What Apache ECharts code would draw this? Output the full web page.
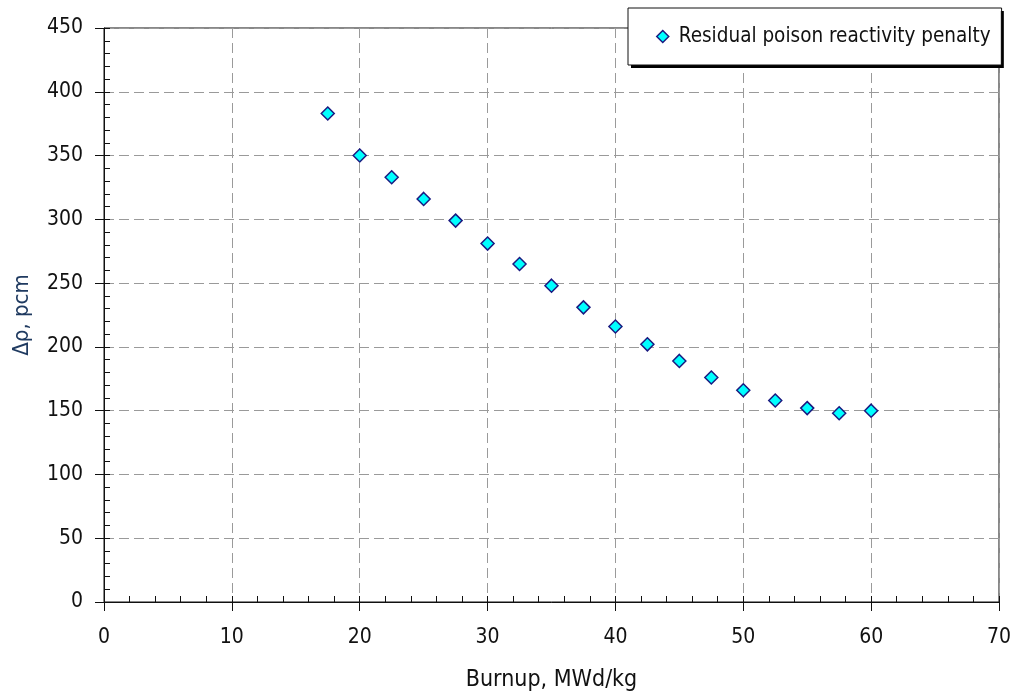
<!DOCTYPE html>
<html>
<head>
<meta charset="utf-8">
<script src="https://cdn.jsdelivr.net/npm/echarts@6/dist/echarts.min.js"></script>
<style>
html,body{margin:0;padding:0;background:#fff;}
#chart{width:1015px;height:693px;}
</style>
</head>
<body>
<div id="chart"></div>
<script>
// Data
const burnup = [17.5, 20, 22.5, 25, 27.5, 30, 32.5, 35, 37.5, 40, 42.5, 45, 47.5, 50, 52.5, 55, 57.5, 60];
const penalty = [383, 350, 333, 316, 299, 281, 265, 248, 231, 216, 202, 189, 176, 166, 158, 152, 148, 150];
const seriesName = 'Residual poison reactivity penalty';
const xTitle = 'Burnup, MWd/kg';
const yTitle = 'Δρ, pcm';

const FONT = '"DejaVu Sans Condensed", "Liberation Sans", sans-serif';
const points = burnup.map((b, i) => [b, penalty[i]]);

const chart = echarts.init(document.getElementById('chart'));
const gridLine = { show: true, lineStyle: { color: '#9a9a9a', type: [10, 5], width: 1 } };
const legendCommon = {
  left: 628, top: 8,
  padding: [18, 11, 18, 28],
  itemWidth: 12, itemHeight: 12,
  textStyle: { fontFamily: FONT, fontSize: 20.5, color: '#111', padding: [0, 0, 0, 5] }
};
chart.setOption({
  animation: false,
  backgroundColor: '#fff',
  grid: { left: 104, right: 16, top: 28, bottom: 91, show: true, borderColor: '#111', borderWidth: 1, backgroundColor: 'transparent', containLabel: false, outerBoundsMode: 'none' },
  legend: [
    Object.assign({}, legendCommon, {
      z: 4,
      backgroundColor: '#fff', borderWidth: 0,
      shadowColor: '#000', shadowBlur: 0, shadowOffsetX: 3, shadowOffsetY: 3,
      textStyle: Object.assign({}, legendCommon.textStyle, { color: 'rgba(0,0,0,0)' }),
      data: [{ name: seriesName, icon: 'diamond', itemStyle: { color: 'rgba(0,0,0,0)', borderWidth: 0 } }]
    }),
    Object.assign({}, legendCommon, {
      z: 5,
      backgroundColor: 'transparent', borderColor: '#111', borderWidth: 1,
      data: [{ name: seriesName, icon: 'diamond', itemStyle: { color: '#00ffff', borderColor: '#1a1a80', borderWidth: 1.5 } }]
    })
  ],
  xAxis: [
    {
      type: 'value', min: 0, max: 70, interval: 10,
      name: xTitle, nameLocation: 'middle', nameGap: 67,
      nameTextStyle: { fontFamily: FONT, fontSize: 23, color: '#111' },
      axisLine: { show: true, lineStyle: { color: '#111' } },
      axisTick: { show: true, inside: false, length: 9, lineStyle: { color: '#111' } },
      axisLabel: { fontFamily: FONT, fontSize: 21, color: '#111', margin: 25 },
      splitLine: gridLine
    },
    {
      type: 'value', min: 0, max: 70, interval: 10, position: 'bottom',
      axisLine: { show: false },
      axisTick: { show: true, inside: true, length: 6, lineStyle: { color: '#111' } },
      minorTick: { show: true, splitNumber: 5, length: 6, lineStyle: { color: '#111' } },
      axisLabel: { show: false },
      splitLine: { show: false }
    }
  ],
  yAxis: [
    {
      type: 'value', min: 0, max: 450, interval: 50,
      name: yTitle, nameLocation: 'middle', nameGap: 71, nameRotate: 90,
      nameTextStyle: { fontFamily: FONT, fontSize: 22, color: '#1f3a60' },
      axisLine: { show: true, lineStyle: { color: '#111' } },
      axisTick: { show: true, inside: false, length: 9, lineStyle: { color: '#111' } },
      axisLabel: { fontFamily: FONT, fontSize: 21, color: '#111', margin: 21 },
      splitLine: gridLine
    },
    {
      type: 'value', min: 0, max: 450, interval: 50, position: 'left',
      axisLine: { show: false },
      axisTick: { show: true, inside: true, length: 6, lineStyle: { color: '#111' } },
      minorTick: { show: true, splitNumber: 5, length: 6, lineStyle: { color: '#111' } },
      axisLabel: { show: false },
      splitLine: { show: false }
    }
  ],
  series: [{
    name: seriesName,
    type: 'scatter',
    xAxisIndex: 0, yAxisIndex: 0,
    symbol: 'diamond', symbolSize: 13,
    itemStyle: { color: '#00ffff', borderColor: '#1a1a80', borderWidth: 1.5, opacity: 1 },
    data: points
  }]
});
</script>
</body>
</html>
